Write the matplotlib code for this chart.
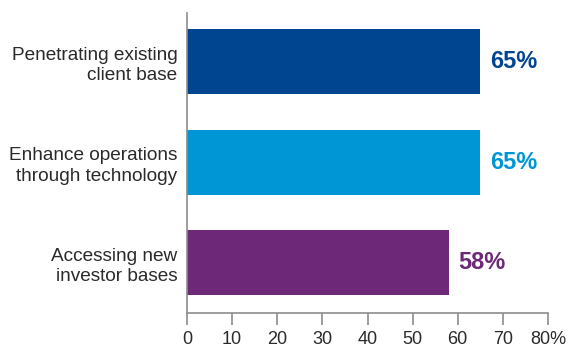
import matplotlib
matplotlib.use("Agg")
import matplotlib.pyplot as plt

categories = ["Accessing new\ninvestor bases",
              "Enhance operations\nthrough technology",
              "Penetrating existing\nclient base"]
values = [58, 65, 65]
value_labels = ["58%", "65%", "65%"]
colors = ["#6D2877", "#0096D6", "#00458F"]
xticks = [0, 10, 20, 30, 40, 50, 60, 70, 80]
xtick_labels = ["0", "10", "20", "30", "40", "50", "60", "70", "80%"]

plt.rcParams['font.family'] = ['Liberation Sans', 'DejaVu Sans']

fig = plt.figure(figsize=(5.69, 3.47), dpi=100)
ax = fig.add_axes([187 / 569, 34 / 347, 361 / 569, 300 / 347])

pos = list(range(len(categories)))
ax.barh(pos, values, height=0.647, color=colors)

for p, v, lab, c in zip(pos, values, value_labels, colors):
    ax.annotate(lab, (v, p), xytext=(7, 0), textcoords="offset points",
                ha="left", va="center", fontsize=17, fontweight="bold", color=c)

ax.set_xlim(0, 80)
ax.set_ylim(-0.502, 2.483)
ax.set_xticks(xticks)
ax.set_xticklabels(xtick_labels, fontsize=13, color="#2a2a2a")
ax.set_yticks(pos)
ax.set_yticklabels(categories, fontsize=13.7, color="#2a2a2a", linespacing=1.3)

for s in ["top", "right"]:
    ax.spines[s].set_visible(False)
for s in ["left", "bottom"]:
    ax.spines[s].set_color("#8c8c8c")
    ax.spines[s].set_linewidth(1.2)

ax.tick_params(axis="x", direction="out", length=8.6, width=1.2, color="#8c8c8c", pad=4)
ax.tick_params(axis="y", length=0, pad=7)

fig.savefig("out.png", dpi=100)
